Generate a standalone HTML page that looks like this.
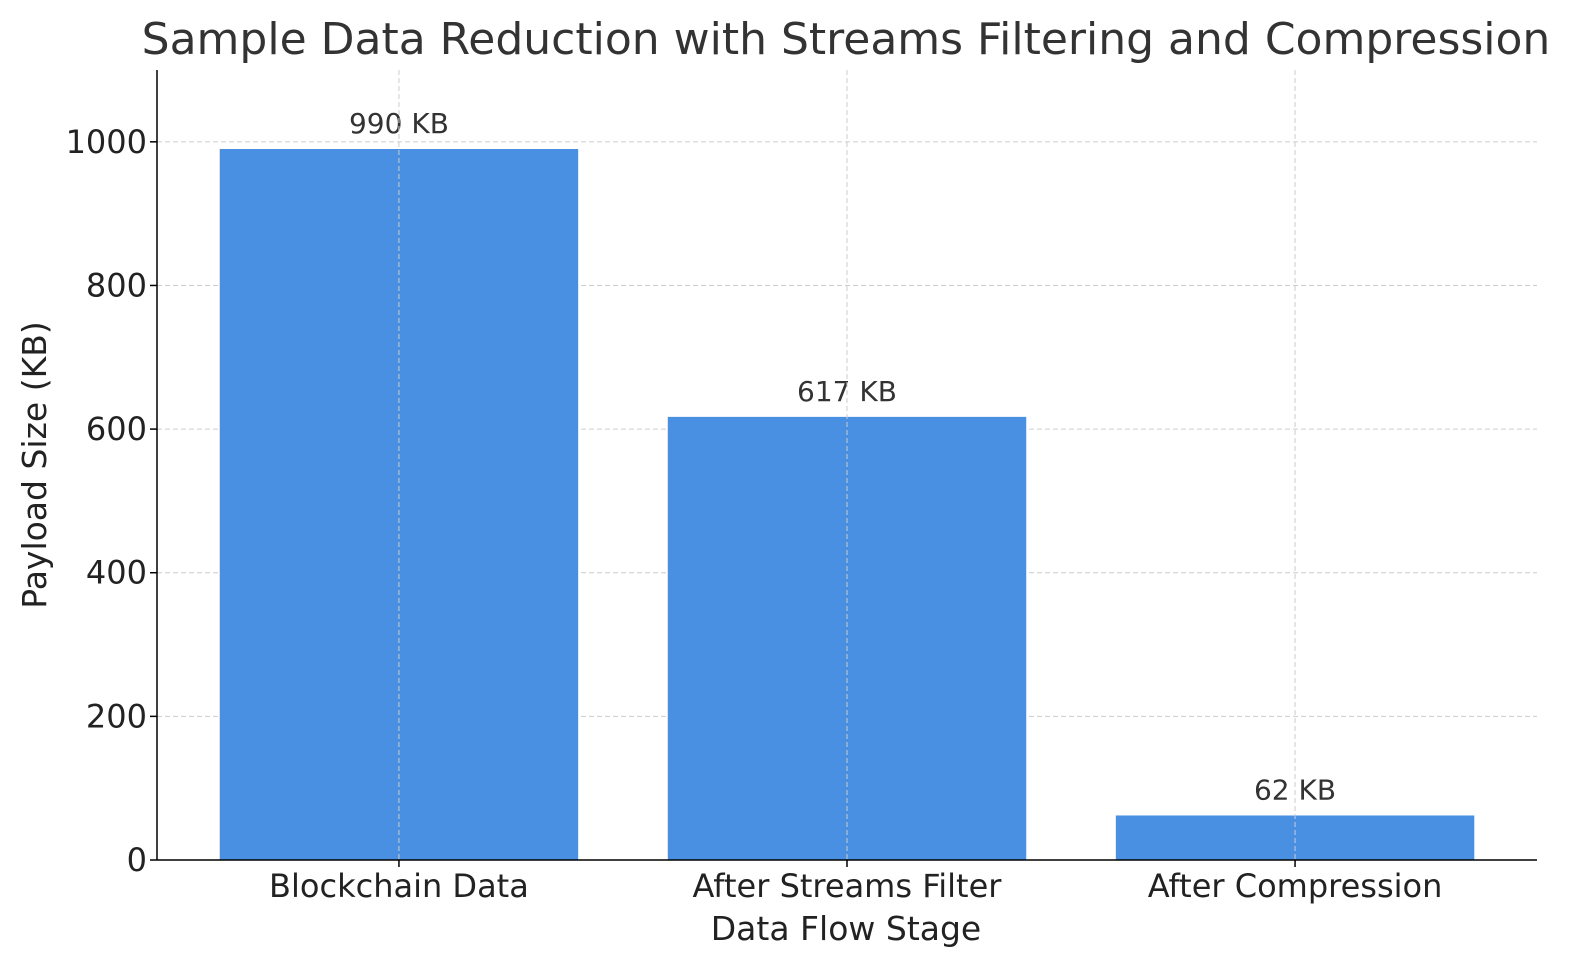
<!DOCTYPE html>
<html><head><meta charset="utf-8"><style>
html,body{margin:0;padding:0;background:#fff;}
svg{display:block;font-family:"DejaVu Sans","Liberation Sans",sans-serif;}
</style></head><body>
<svg id="chart" width="1591" height="980" viewBox="0 0 1591 980">
<text x="846" y="54" font-size="44" fill="#333" text-anchor="middle">Sample Data Reduction with Streams Filtering and Compression</text>
<g id="grid"></g>
<g id="bars"></g>
<g id="axes"></g>
<text x="846" y="940" font-size="33" fill="#222" text-anchor="middle">Data Flow Stage</text>
<text transform="translate(46,465) rotate(-90)" font-size="33" fill="#222" text-anchor="middle">Payload Size (KB)</text>
</svg>
<script>
const categories = ["Blockchain Data", "After Streams Filter", "After Compression"];
const values = [990, 617, 62];
const valueLabels = ["990 KB", "617 KB", "62 KB"];
const yTicks = [0, 200, 400, 600, 800, 1000];

const NS = "http://www.w3.org/2000/svg";
const L = 157, R = 1537, T = 70, B = 860, yMax = 1100, xMin = -0.54, xMax = 2.54;
const x = v => L + (v - xMin) / (xMax - xMin) * (R - L);
const y = v => B - v / yMax * (B - T);
function mk(tag, attrs, parent) {
  const e = document.createElementNS(NS, tag);
  for (const k in attrs) e.setAttribute(k, attrs[k]);
  parent.appendChild(e);
  return e;
}
const grid = document.getElementById('grid'), bars = document.getElementById('bars'), axes = document.getElementById('axes');
yTicks.forEach(t => {
  const g = mk('line', {x1: L, x2: R, y1: y(t), y2: y(t), stroke: '#ccc', 'stroke-dasharray': '5,3', 'stroke-width': 1}, grid);
  
  
  const tk = mk('line', {x1: L - 7, x2: L, y1: y(t), y2: y(t), stroke: '#000', 'stroke-width': 1.5}, axes);
  
  
  const lb = mk('text', {x: L - 10, y: y(t) + 11, 'font-size': 32, fill: '#222', 'text-anchor': 'end'}, axes);
  lb.textContent = t;
  
  
});
categories.forEach((c, i) => {
  const bw = 0.8;
  const r = mk('rect', {x: x(i - bw / 2), y: y(values[i]), width: x(i + bw / 2) - x(i - bw / 2), height: B - y(values[i]), fill: '#4a90e2'}, bars);
  
  
  const vl = mk('text', {x: x(i), y: y(values[i]) - 16, 'font-size': 28, fill: '#333', 'text-anchor': 'middle'}, bars);
  vl.textContent = valueLabels[i];
  
  
  const g = mk('line', {x1: x(i), x2: x(i), y1: T, y2: B, stroke: '#ccc', 'stroke-dasharray': '5,3', 'stroke-width': 1}, bars);
  
  
  const tk = mk('line', {x1: x(i), x2: x(i), y1: B, y2: B + 7, stroke: '#000', 'stroke-width': 1.5}, axes);
  
  
  const lb = mk('text', {x: x(i), y: B + 37, 'font-size': 32, fill: '#222', 'text-anchor': 'middle'}, axes);
  lb.textContent = c;
  
  
});
const la = mk('line', {x1: L, x2: L, y1: T, y2: B, stroke: '#000', 'stroke-width': 1.5}, axes);


const ba = mk('line', {x1: L, x2: R, y1: B, y2: B, stroke: '#000', 'stroke-width': 1.5}, axes);


</script>
</body></html>
